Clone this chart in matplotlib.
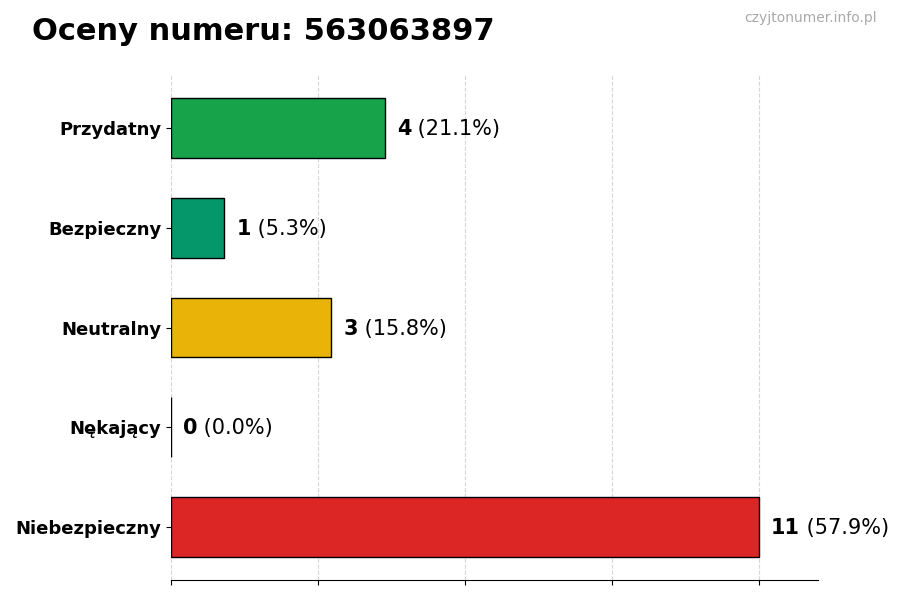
import numpy as np
import matplotlib
matplotlib.use("Agg")
import matplotlib.pyplot as plt

# dane
categories = ["Niebezpieczny", "Nękający", "Neutralny", "Bezpieczny", "Przydatny"]
counts = [11, 0, 3, 1, 4]
colors = ["#dc2626", "#6b7280", "#eab308", "#059669", "#16a34a"]
numer = "563063897"

total = sum(counts)
max_v = max(counts)

fig = plt.figure(figsize=(9, 6), dpi=100)
ax = fig.add_axes([0.19, 0.0333, 0.719, 0.8417])

y = np.arange(len(categories))
ax.barh(y, counts, height=0.6, color=colors, edgecolor="black", linewidth=1)

ax.set_yticks(y)
ax.set_yticklabels(categories, fontsize=13, fontweight="bold")
ax.set_xlim(0, max_v * 1.1)
ax.set_xticks(np.linspace(0, max_v, 5))
ax.set_xticklabels([])
ax.grid(axis="x", linestyle="--", color="#cccccc", alpha=0.8)
ax.set_axisbelow(True)
for s in ["top", "right", "left"]:
    ax.spines[s].set_visible(False)

## etykiety z wartościami
off = max_v * 0.02
for i, v in enumerate(counts):
    pct = v / total * 100
    t = ax.text(v + off, i - 0.01, f"{v}", va="center", ha="left", fontsize=15, fontweight="bold")
    ax.annotate(f" ({pct:.1f}%)", xycoords=t, xy=(1, 0.5), va="center", ha="left", fontsize=15)

fig.text(0.036, 0.947, f"Oceny numeru: {numer}", fontsize=22, fontweight="bold", va="center")
fig.text(0.974, 0.97, "czyjtonumer.info.pl", fontsize=10, color="#aaaaaa", ha="right", va="center")

fig.savefig("out.png", dpi=100)
